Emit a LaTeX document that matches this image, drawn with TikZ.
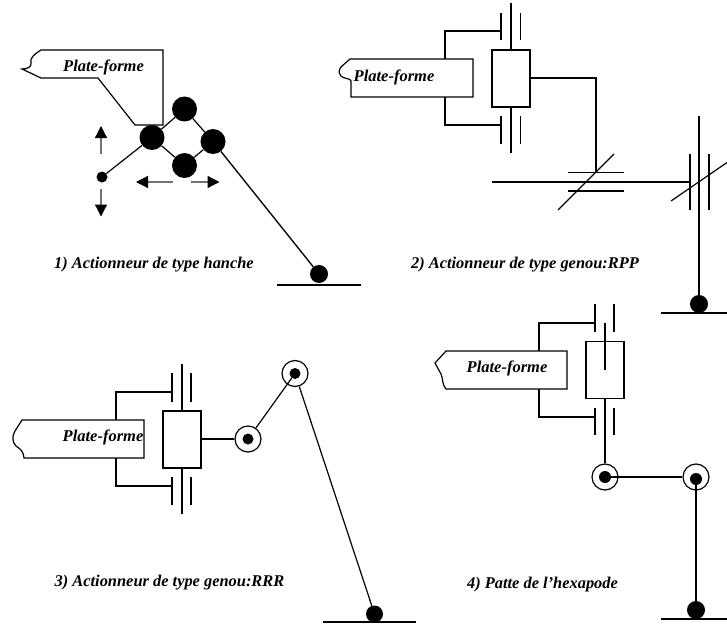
\documentclass[tikz,border=0pt]{standalone}
\usepackage{fontspec}
\setmainfont{Liberation Serif}
\usetikzlibrary{arrows.meta}
\tikzset{
  x=1pt,y=-1pt,
  lnk/.style={line width=1.2pt,black},
  thick link/.style={line width=1.4pt,black},
  plate/.style={line width=1.2pt,black},
  label text/.style={font=\bfseries\itshape\fontsize{16.5}{18}\selectfont,inner sep=0pt,anchor=center},
  cap text/.style={font=\bfseries\itshape\fontsize{16.4}{18}\selectfont,inner sep=0pt,anchor=center},
  slider/.style={draw,line width=1.3pt,fill=white,inner sep=0pt,minimum width=38pt,minimum height=57pt},
  bigdot/.style={circle,fill=black,inner sep=0pt,minimum size=25pt},
  foot/.style={circle,fill=black,inner sep=0pt,minimum size=18pt},
  pin/.style={circle,fill=black,inner sep=0pt,minimum size=11pt},
  ring/.style={circle,draw,line width=1.2pt,fill=white,inner sep=0pt,minimum size=26pt},
  moveshaft/.style={line width=1.2pt,draw=black!55,-{Triangle[length=12pt,width=12pt,fill=black,color=black]}},
  platform/.style={line width=1.2pt,draw=black,fill=white,line join=miter},
}
\begin{document}
\begin{tikzpicture}
\useasboundingbox (0,0) rectangle (727,623);
% ---------- Panel 1
\draw[platform] (41,50) -- (163,50) -- (163,125) -- (135,125) -- (98,78) -- (41,78) -- (22,69)
  .. controls (27,69) and (32,67) .. (31,63) .. controls (30,58) and (33,55) .. (41,50) -- cycle;
\node[label text] (pf1) at (103.5,67) {Plate-forme};
\node[bigdot] (a) at (152,137.5) {};
\node[bigdot] (b) at (184.5,109) {};
\node[bigdot] (c) at (213,141.5) {};
\node[bigdot] (d) at (184.5,165.5) {};
\node[pin] (p1) at (102,177) {};
\node[foot] (f1) at (319,274) {};
\draw[lnk] (a) -- (b);
\draw[lnk] (b) -- (c);
\draw[lnk] (c) -- (d);
\draw[lnk] (d) -- (a);
\draw[lnk] (p1) -- (a);
\draw[thick link] (c) -- (f1);
\coordinate (g1a) at (277,285); \coordinate (g1b) at (361,285);
\draw[lnk] (g1a) -- (g1b);
\coordinate (u0) at (101,154); \coordinate (u1) at (101,126);
\coordinate (v0) at (101,189); \coordinate (v1) at (101,216.5);
\coordinate (l0) at (173,182); \coordinate (l1) at (136,182);
\coordinate (r0) at (191,182); \coordinate (r1) at (219.5,182);
\draw[moveshaft] (u0) -- (u1);
\draw[moveshaft] (v0) -- (v1);
\draw[moveshaft] (l0) -- (l1);
\draw[moveshaft] (r0) -- (r1);
\node[cap text] (c1) at (154,265) {1) Actionneur de type hanche};
% ---------- Panel 2
\draw[platform] (350,59) -- (473,59) -- (473,97) -- (351,97) -- (351,81)
  .. controls (351,78) and (343,79) .. (341,76) .. controls (338,72) and (339,70) .. (341,67) -- cycle;
\node[label text] (pf2) at (394,77) {Plate-forme};
\node[slider] (s2) at (511,78.5) {};
\draw[lnk] (445,59) |- (501,31);
\draw[lnk] (445,97) |- (501,125);
\draw[plate] (501,13) -- (501,40) (520.5,13) -- (520.5,40);
\draw[plate] (501,116) -- (501,144) (520.5,116) -- (520.5,144);
\draw[plate] (511,3) -- (s2.north);
\draw[plate] (s2.south) -- (511,153);
\draw[lnk] (s2.east |- 0,78) -| (596,172);
\draw[plate] (568,172.5) -- (624,172.5) (568,191) -- (624,191);
\draw[thick link] (492,182) -- (690,182);
\draw[plate] (558,210) -- (614,154);
\draw[plate] (690,154) -- (690,210) (709,154) -- (709,210);
\draw[plate] (671,201) -- (727,162.5);
\node[foot] (f2) at (699,304) {};
\coordinate (t2) at (699,116);
\draw[thick link] (t2) -- (f2);
\coordinate (g2a) at (661,313); \coordinate (g2b) at (727,313);
\draw[lnk] (g2a) -- (g2b);
\node[cap text] (c2) at (525,265) {2) Actionneur de type genou:RPP};
% ---------- Panel 3
\draw[platform] (22,420) -- (144,420) -- (144,458) -- (24,458)
  .. controls (23,450) and (20,449) .. (16,446) .. controls (12,442) and (12,436) .. (15,431) -- cycle;
\node[label text] (pf3) at (103,437) {Plate-forme};
\node[slider] (s3) at (182,439.5) {};
\draw[lnk] (116,420) |- (172,392);
\draw[lnk] (116,458) |- (172,486);
\draw[plate] (172,373) -- (172,402) (191,373) -- (191,402);
\draw[plate] (172,477) -- (172,505) (191,477) -- (191,505);
\draw[plate] (182,364) -- (s3.north);
\draw[plate] (s3.south) -- (182,514);
\node[ring] (j1) at (248,439) {};
\node[pin] (j1i) at (248,439) {};
\node[ring] (j2) at (295,373.5) {};
\node[pin] (j2i) at (295,373.5) {};
\node[foot,minimum size=17pt] (f3) at (374.5,614) {};
\draw[lnk] (s3.east |- j1) -- (j1);
\draw[lnk] (j1) -- (j2i);
\draw[lnk] (j2) -- (f3);
\coordinate (g3a) at (323,622); \coordinate (g3b) at (416,622);
\draw[lnk] (g3a) -- (g3b);
\node[cap text] (c3) at (169.5,583) {3) Actionneur de type genou:RRR};
% ---------- Panel 4
\draw[platform] (446,351) -- (567,351) -- (567,389) -- (446,389)
  .. controls (442,385) and (443,378) .. (441,374) -- (435,363) -- cycle;
\node[label text] (pf4) at (507,368) {Plate-forme};
\node[slider] (s4) at (605,370) {};
\draw[lnk] (539,351) |- (595,323);
\draw[lnk] (539,389) |- (595,417);
\draw[plate] (595,304) -- (595,332) (614,304) -- (614,332);
\draw[plate] (595,408) -- (595,435) (614,408) -- (614,435);
\draw[plate] (605,323) -- (605,370);
\node[ring] (j3) at (605,477) {};
\node[pin,minimum size=12pt] (j3i) at (605,477) {};
\node[ring] (j4) at (696,477) {};
\node[pin,minimum size=12pt] (j4i) at (696,479) {};
\node[foot] (f4) at (696,610) {};
\draw[lnk] (s4.south) -- (j3);
\draw[lnk] (j3i) -- (j4);
\draw[thick link] (j4i) -- (f4);
\coordinate (g4a) at (661,619); \coordinate (g4b) at (727,619);
\draw[lnk] (g4a) -- (g4b);
\node[cap text] (c4) at (542.5,585) {4) Patte de l’hexapode};
\end{tikzpicture}
\end{document}
